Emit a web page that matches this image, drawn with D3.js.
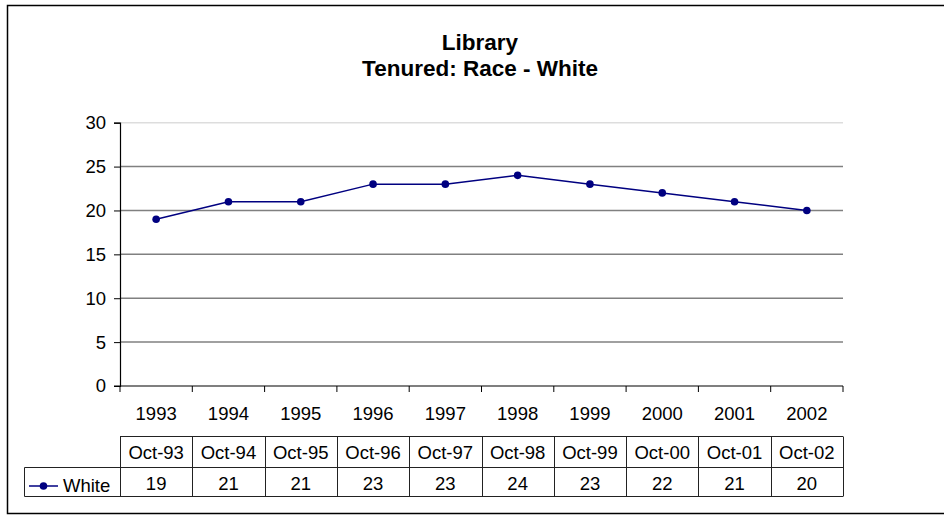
<!DOCTYPE html>
<html>
<head>
<meta charset="utf-8">
<script src="https://cdn.jsdelivr.net/npm/d3@7"></script>
<style>
  body { margin: 0; background: #fff; }
  svg { display: block; font-family: "Liberation Sans", Arial, sans-serif; }
</style>
</head>
<body>
<svg width="944" height="515"></svg>
<script>
// chart data
var years = ["1993", "1994", "1995", "1996", "1997", "1998", "1999", "2000", "2001", "2002"];
var dates = ["Oct-93", "Oct-94", "Oct-95", "Oct-96", "Oct-97", "Oct-98", "Oct-99", "Oct-00", "Oct-01", "Oct-02"];
var white = [19, 21, 21, 23, 23, 24, 23, 22, 21, 20];
var yTicks = [0, 5, 10, 15, 20, 25, 30];

var svg = d3.select("svg");
var fs = 18.5;

var x = d3.scaleBand().domain(years).range([120, 843]);
var y = d3.scaleLinear().domain([0, 30]).range([386, 122.7]);

// outer frame
svg.append("rect")
    .attr("x", 7.5).attr("y", 5.5)
    .attr("width", 945).attr("height", 508)
    .attr("fill", "#fff")
    .attr("stroke", "#000")
    .attr("stroke-width", 1.5);

// title
var title = svg.append("text")
    .attr("text-anchor", "middle")
    .attr("font-weight", "bold")
    .attr("font-size", 22.5);
title.append("tspan").attr("x", 480).attr("y", 50).text("Library");
title.append("tspan").attr("x", 480).attr("y", 75.5).text("Tenured: Race - White");

// gridlines
svg.append("g")
    .selectAll("line")
    .data(yTicks.filter(function (d) { return d > 0; }))
    .enter().append("line")
    .attr("x1", 120).attr("x2", 843)
    .attr("y1", function (d) { return y(d); })
    .attr("y2", function (d) { return y(d); })
    .attr("stroke", function (d) { return d === 30 ? "#dddddd" : "#808080"; })
    .attr("stroke-width", 1.5);

// y axis
var yAxis = svg.append("g")
    .attr("transform", "translate(120,0)")
    .call(d3.axisLeft(y).tickValues(yTicks).tickSize(6).tickPadding(8));
yAxis.select(".domain").attr("stroke", "#000").attr("stroke-width", 1.2);
yAxis.selectAll(".tick line").attr("stroke", "#000");
yAxis.selectAll("text")
    .attr("font-size", fs)
    .attr("font-family", "Liberation Sans, Arial, sans-serif")
    .attr("fill", "#000");

// x axis: line, boundary ticks, year labels
svg.append("line")
    .attr("x1", 114).attr("x2", 843)
    .attr("y1", y(0)).attr("y2", y(0))
    .attr("stroke", "#000").attr("stroke-width", 1.2);

var edges = years.map(function (d) { return x(d); }).concat([x.range()[1]]);
svg.append("g")
    .selectAll("line")
    .data(edges)
    .enter().append("line")
    .attr("x1", function (d) { return d; })
    .attr("x2", function (d) { return d; })
    .attr("y1", y(0)).attr("y2", y(0) + 6)
    .attr("stroke", "#000");

svg.append("g")
    .selectAll("text")
    .data(years)
    .enter().append("text")
    .attr("x", function (d) { return x(d) + x.bandwidth() / 2; })
    .attr("y", 420)
    .attr("text-anchor", "middle")
    .attr("font-size", fs)
    .text(function (d) { return d; });

// series line and markers
var line = d3.line()
    .x(function (d, i) { return x(years[i]) + x.bandwidth() / 2; })
    .y(function (d) { return y(d); });

svg.append("path")
    .datum(white)
    .attr("d", line)
    .attr("fill", "none")
    .attr("stroke", "#000080")
    .attr("stroke-width", 1.5);

svg.append("g")
    .selectAll("circle")
    .data(white)
    .enter().append("circle")
    .attr("cx", function (d, i) { return x(years[i]) + x.bandwidth() / 2; })
    .attr("cy", function (d) { return y(d); })
    .attr("r", 3.8)
    .attr("fill", "#000080");

// data table
var rowTop = 436.5, rowMid = 467.5, rowBot = 496.5, legendLeft = 24.5;
var table = svg.append("g")
    .attr("stroke", "#222")
    .attr("stroke-width", 1)
    .attr("fill", "none");

table.append("line").attr("x1", 120).attr("x2", 843).attr("y1", rowTop).attr("y2", rowTop);
table.append("line").attr("x1", legendLeft).attr("x2", 843).attr("y1", rowMid).attr("y2", rowMid);
table.append("line").attr("x1", legendLeft).attr("x2", 843).attr("y1", rowBot).attr("y2", rowBot);
table.append("line").attr("x1", legendLeft).attr("x2", legendLeft).attr("y1", rowMid).attr("y2", rowBot);
table.selectAll(".col")
    .data(edges)
    .enter().append("line")
    .attr("class", "col")
    .attr("x1", function (d) { return Math.round(d) + 0.5; })
    .attr("x2", function (d) { return Math.round(d) + 0.5; })
    .attr("y1", rowTop).attr("y2", rowBot);

svg.append("g")
    .selectAll("text")
    .data(dates)
    .enter().append("text")
    .attr("x", function (d, i) { return x(years[i]) + x.bandwidth() / 2; })
    .attr("y", 459)
    .attr("text-anchor", "middle")
    .attr("font-size", fs)
    .text(function (d) { return d; });

svg.append("g")
    .selectAll("text")
    .data(white)
    .enter().append("text")
    .attr("x", function (d, i) { return x(years[i]) + x.bandwidth() / 2; })
    .attr("y", 490)
    .attr("text-anchor", "middle")
    .attr("font-size", fs)
    .text(function (d) { return d; });

// legend key in table
svg.append("line")
    .attr("x1", 29).attr("x2", 58)
    .attr("y1", 486).attr("y2", 486)
    .attr("stroke", "#000080").attr("stroke-width", 1.5);
svg.append("circle")
    .attr("cx", 43.5).attr("cy", 486).attr("r", 3.8)
    .attr("fill", "#000080");
svg.append("text")
    .attr("x", 63).attr("y", 492)
    .attr("font-size", fs)
    .text("White");
</script>
</body>
</html>
